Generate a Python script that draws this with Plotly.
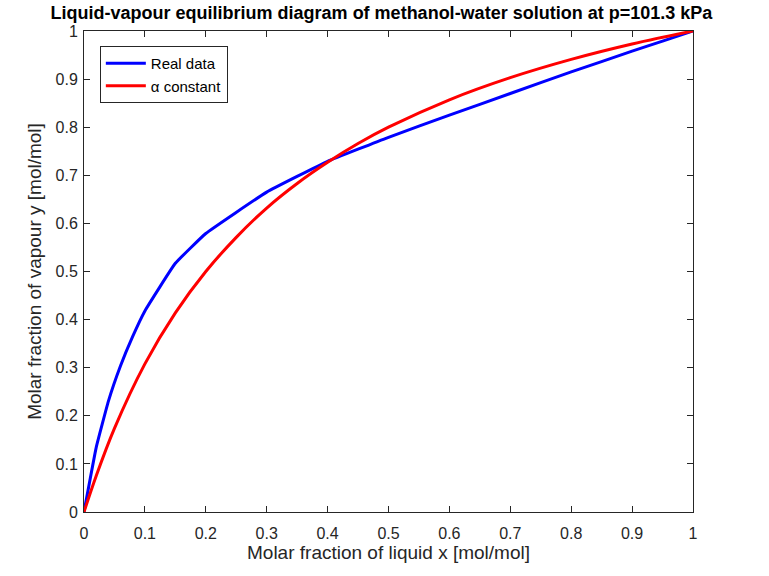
import plotly.graph_objects as go

# Experimental VLE data, methanol-water at 101.3 kPa
x_real = [0, 0.02, 0.04, 0.06, 0.08, 0.10, 0.15, 0.20, 0.30, 0.40, 0.50, 0.60, 0.70, 0.80, 0.90, 0.95, 1.0]
y_real = [0, 0.134, 0.230, 0.304, 0.365, 0.418, 0.517, 0.579, 0.665, 0.729, 0.779, 0.825, 0.870, 0.915, 0.958, 0.979, 1.0]

# Constant relative volatility curve
x_alpha = [0, 0.02, 0.05, 0.10, 0.15, 0.20, 0.25, 0.30, 0.35, 0.40, 0.45, 0.50, 0.60, 0.70, 0.80, 0.90, 1.0]
y_alpha = [0, 0.075, 0.174, 0.308, 0.414, 0.500, 0.571, 0.632, 0.683, 0.727, 0.766, 0.800, 0.857, 0.903, 0.941, 0.973, 1.0]

ticks = [0, 0.1, 0.2, 0.3, 0.4, 0.5, 0.6, 0.7, 0.8, 0.9, 1]
tick_text = ["0", "0.1", "0.2", "0.3", "0.4", "0.5", "0.6", "0.7", "0.8", "0.9", "1"]

font_family = "Liberation Sans, Arial, sans-serif"

fig = go.Figure()
fig.add_trace(go.Scatter(x=x_real, y=y_real, mode="lines", name="Real data",
                         line=dict(color="#0000ff", width=3, shape="spline", smoothing=0.3)))
fig.add_trace(go.Scatter(x=x_alpha, y=y_alpha, mode="lines", name="α constant",
                         line=dict(color="#ff0000", width=3, shape="spline")))

axis_common = dict(
    range=[0, 1], tickvals=ticks, ticktext=tick_text,
    ticks="inside", ticklen=6, tickwidth=1, tickcolor="#262626",
    showline=True, linecolor="#262626", linewidth=1, mirror="ticks",
    showgrid=False, zeroline=False,
    tickfont=dict(family=font_family, size=16, color="#262626"),
)

fig.update_layout(
    width=769, height=576,
    margin=dict(l=84, r=76, t=31, b=64),
    paper_bgcolor="white", plot_bgcolor="white",
    font=dict(family=font_family, color="#262626"),
    title=dict(text="<b>Liquid-vapour equilibrium diagram of methanol-water solution at p=101.3 kPa</b>",
               x=0.496, xanchor="center", y=0.978, yanchor="middle",
               font=dict(family=font_family, size=18, color="black")),
    xaxis=dict(**axis_common, ticklabelstandoff=7,
               title=dict(text="Molar fraction of liquid x [mol/mol]", standoff=2,
                          font=dict(family=font_family, size=19, color="#262626"))),
    yaxis=dict(**axis_common, ticklabelstandoff=2,
               title=dict(text="Molar fraction of vapour y [mol/mol]", standoff=8,
                          font=dict(family=font_family, size=19, color="#262626"))),
    legend=dict(x=0.026, y=0.969, xanchor="left", yanchor="top",
                bgcolor="white", bordercolor="#262626", borderwidth=1,
                font=dict(family=font_family, size=15, color="black"),
                itemwidth=40, tracegroupgap=0),
    showlegend=True,
)

fig.write_html("out.html")
